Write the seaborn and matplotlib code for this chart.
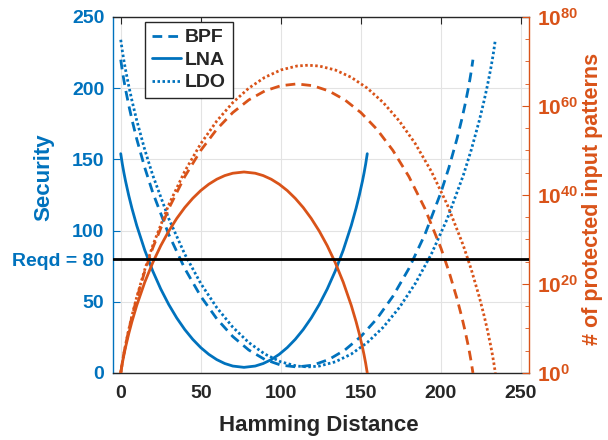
import matplotlib
matplotlib.use("Agg")
import matplotlib.pyplot as plt
import matplotlib.ticker as mticker
from matplotlib.transforms import blended_transform_factory
import seaborn as sns

# ---- data -------------------------------------------------------------
# Hamming distance samples, security (bits) and log10(# protected input patterns)
bpf_hd = [0, 1, 2, 3, 5, 7, 10, 15, 20, 30, 40, 50, 60, 70, 80, 90, 100, 110,
          120, 130, 140, 150, 160, 170, 180, 190, 200, 205, 210, 213, 215, 217,
          218, 219, 220]
bpf_security = [220, 212.22, 205.44, 199.26, 188.07, 177.97, 164.28, 144.23,
                126.74, 97.26, 73.36, 53.85, 38.07, 25.59, 16.12, 9.47, 5.52,
                4.22, 5.52, 9.47, 16.12, 25.59, 38.07, 53.85, 73.36, 97.26,
                126.74, 144.23, 164.28, 177.97, 188.07, 199.26, 205.44, 212.22,
                220]
bpf_patterns_exp = [0, 2.34, 4.38, 6.24, 9.61, 12.65, 16.77, 22.81, 28.08,
                    36.95, 44.14, 50.02, 54.77, 58.52, 61.37, 63.38, 64.56,
                    64.96, 64.56, 63.38, 61.37, 58.52, 54.77, 50.02, 44.14,
                    36.95, 28.08, 22.81, 16.77, 12.65, 9.61, 6.24, 4.38, 2.34, 0]

lna_hd = [0, 1, 2, 3, 5, 7, 10, 15, 20, 25, 30, 35, 40, 45, 50, 55, 60, 65, 70,
          77, 84, 89, 94, 99, 104, 109, 114, 119, 124, 129, 134, 139, 144, 147,
          149, 151, 152, 153, 154]
lna_security = [154, 146.73, 140.48, 134.81, 124.67, 115.63, 103.55, 86.27,
                71.60, 58.98, 48.07, 38.63, 30.51, 23.61, 17.82, 13.10, 9.38,
                6.65, 4.87, 3.96, 4.87, 6.65, 9.38, 13.10, 17.82, 23.61, 30.51,
                38.63, 48.07, 58.98, 71.60, 86.27, 103.55, 115.63, 124.67,
                134.81, 140.48, 146.73, 154]
lna_patterns_exp = [0, 2.19, 4.07, 5.78, 8.83, 11.55, 15.19, 20.39, 24.80,
                    28.60, 31.89, 34.73, 37.18, 39.25, 41.00, 42.42, 43.54,
                    44.36, 44.89, 45.17, 44.89, 44.36, 43.54, 42.42, 41.00,
                    39.25, 37.18, 34.73, 31.89, 28.60, 24.80, 20.39, 15.19,
                    11.55, 8.83, 5.78, 4.07, 2.19, 0]

ldo_hd = [0, 1, 2, 3, 5, 7, 10, 15, 20, 30, 40, 50, 60, 70, 80, 90, 100, 110,
          117, 124, 134, 144, 154, 164, 174, 184, 194, 204, 214, 219, 224, 227,
          229, 231, 232, 233, 234]
ldo_security = [234, 226.13, 219.27, 212.99, 201.62, 191.34, 177.37, 156.85,
                138.87, 108.40, 83.45, 62.84, 45.89, 32.16, 21.36, 13.29, 7.82,
                4.86, 4.26, 4.86, 7.82, 13.29, 21.36, 32.16, 45.89, 62.84,
                83.45, 108.40, 138.87, 156.85, 177.37, 191.34, 201.62, 212.99,
                219.27, 226.13, 234]
ldo_patterns_exp = [0, 2.37, 4.44, 6.32, 9.75, 12.84, 17.05, 23.22, 28.64,
                    37.81, 45.32, 51.53, 56.63, 60.76, 64.01, 66.44, 68.09,
                    68.98, 69.16, 68.98, 68.09, 66.44, 64.01, 60.76, 56.63,
                    51.53, 45.32, 37.81, 28.64, 23.22, 17.05, 12.84, 9.75,
                    6.32, 4.44, 2.37, 0]

circuit_names = ["BPF", "LNA", "LDO"]
reqd_security = 80

x_ticks = [0, 50, 100, 150, 200, 250]
left_ticks = [0, 50, 80, 100, 150, 200, 250]
left_tick_labels = ["0", "50", "Reqd = 80", "100", "150", "200", "250"]
right_tick_exps = [0, 20, 40, 60, 80]

# ---- style ------------------------------------------------------------
sns.set_style("white")
plt.rcParams["font.family"] = ["Liberation Sans", "DejaVu Sans"]
plt.rcParams["font.weight"] = "bold"
plt.rcParams["mathtext.fontset"] = "custom"
plt.rcParams["mathtext.rm"] = "Liberation Sans:bold"
plt.rcParams["mathtext.bf"] = "Liberation Sans:bold"
plt.rcParams["mathtext.default"] = "bf"

BLUE = "#0072BD"
ORANGE = "#D95319"
DARK = "#262626"
line_styles = {"BPF": (0, (3.5, 2.2)), "LNA": "-", "LDO": (0, (0.9, 0.9))}

fig = plt.figure(figsize=(6.08, 4.40), dpi=100)
ax = fig.add_axes([0.1854, 0.1523, 0.6846, 0.8091])
ax2 = ax.twinx()
ax2.set_yscale("log")

series = [
    ("BPF", bpf_hd, bpf_security, bpf_patterns_exp),
    ("LNA", lna_hd, lna_security, lna_patterns_exp),
    ("LDO", ldo_hd, ldo_security, ldo_patterns_exp),
]

legend_handles = []
for name, hd, sec, pexp in series:
    sns.lineplot(x=hd, y=sec, ax=ax, color=BLUE, linestyle=line_styles[name],
                 linewidth=2, legend=False)
    legend_handles.append(ax.lines[-1])
    patterns = [10.0 ** e for e in pexp]
    sns.lineplot(x=hd, y=patterns, ax=ax2, color=ORANGE,
                 linestyle=line_styles[name], linewidth=2, legend=False)

# required security level, expressed in left-axis units
ax2.plot([0, 1], [reqd_security, reqd_security], color="black", linewidth=2,
         transform=blended_transform_factory(ax2.transAxes, ax.transData),
         zorder=5)

# ---- axes -------------------------------------------------------------
ax.set_xlim(-5, 255)
ax.set_ylim(0, 250)
ax2.set_ylim(1, 1e80)

ax.set_xticks(x_ticks)
ax.set_yticks(left_ticks)
ax.set_yticklabels(left_tick_labels)
ax.grid(True, color="#e3e3e3", linewidth=0.8)
ax.set_axisbelow(True)

ax2.yaxis.set_major_locator(mticker.FixedLocator([10.0 ** e for e in right_tick_exps]))
ax2.yaxis.set_major_formatter(mticker.FixedFormatter(
    [rf"$10^{{{e}}}$" for e in right_tick_exps]))
ax2.yaxis.set_minor_locator(mticker.FixedLocator(
    [10.0 ** e for e in range(0, 81, 5) if e % 20]))
ax2.yaxis.set_minor_formatter(mticker.NullFormatter())
ax2.grid(False)

ax.tick_params(axis="x", direction="in", length=5, top=True, colors=DARK,
               labelsize=14, pad=9)
ax.tick_params(axis="y", direction="in", length=5, colors=BLUE, labelsize=14,
               pad=6)
ax2.tick_params(axis="y", which="major", direction="in", length=5,
                colors=ORANGE, labelsize=15, pad=6)
ax2.tick_params(axis="y", which="minor", direction="in", length=3,
                colors=ORANGE)

for a in (ax, ax2):
    for s in a.spines.values():
        s.set_linewidth(1)
ax.spines["left"].set_color(BLUE)
ax.spines["right"].set_visible(False)
ax.spines["top"].set_color(DARK)
ax.spines["bottom"].set_color(DARK)
ax2.spines["left"].set_visible(False)
ax2.spines["top"].set_visible(False)
ax2.spines["bottom"].set_visible(False)
ax2.spines["right"].set_color(ORANGE)

ax.set_xlabel("Hamming Distance", fontsize=16, fontweight="bold", color=DARK)
ax.xaxis.set_label_coords(0.495, -0.118)
ax.set_ylabel("Security", fontsize=16, fontweight="bold", color=BLUE)
ax.yaxis.set_label_coords(-0.14, 0.55)
ax2.set_ylabel("# of protected input patterns", fontsize=15.5,
               fontweight="bold", color=ORANGE)
ax2.yaxis.set_label_coords(1.128, 0.49)

leg = ax2.legend(handles=legend_handles, labels=circuit_names,
                 loc="upper left", bbox_to_anchor=(0.0775, 0.986),
                 borderaxespad=0, frameon=True, fancybox=False,
                 edgecolor=DARK, prop={"weight": "bold", "size": 14},
                 handlelength=1.5, labelspacing=0.25, borderpad=0.35,
                 handletextpad=0.2, framealpha=1)
leg.get_frame().set_linewidth(1)
leg.set_zorder(10)

fig.savefig("out.png", dpi=100)
